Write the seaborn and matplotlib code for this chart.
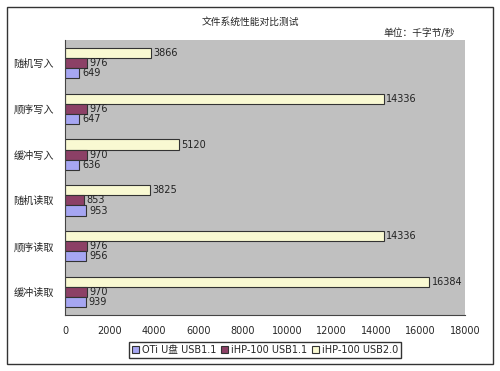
import seaborn as sns
import pandas as pd
import matplotlib.pyplot as plt
from matplotlib.patches import Rectangle

tests = ['随机写入', '顺序写入', '缓冲写入', '随机读取', '顺序读取', '缓冲读取']
devices = ['OTi U盘 USB1.1', 'iHP-100 USB1.1', 'iHP-100 USB2.0']
oti_usb11 = [649, 647, 636, 953, 956, 939]
ihp_usb11 = [976, 976, 970, 853, 976, 970]
ihp_usb20 = [3866, 14336, 5120, 3825, 14336, 16384]
colors = ['#9999FF', '#993366', '#FFFFCC']
x_ticks = [0, 2000, 4000, 6000, 8000, 10000, 12000, 14000, 16000, 18000]


def show():
    sns.set_style('white')
    plt.rcParams['font.family'] = ['DejaVu Sans', 'Noto Sans CJK SC']

    rows = []
    for dev, vals in zip(devices, [oti_usb11, ihp_usb11, ihp_usb20]):
        for t, v in zip(tests, vals):
            rows.append({'test': t, 'device': dev, 'value': v})
    df = pd.DataFrame(rows)

    fig = plt.figure(figsize=(5, 3.71), dpi=100)
    ax = fig.add_axes([0.13, 0.151, 0.8, 0.741])
    ax.set_facecolor('#C0C0C0')

    order = devices[::-1]
    sns.barplot(data=df, x='value', y='test', hue='device', hue_order=order,
                order=tests, palette=dict(zip(devices, colors)), orient='h',
                width=0.66, edgecolor='#333333', linewidth=0.8, ax=ax)

    for c in ax.containers:
        ax.bar_label(c, padding=2, fontsize=7, color='#222222')

    ax.set_xlim(0, 18000)
    ax.set_xticks(x_ticks)
    ax.set_xlabel('')
    ax.set_ylabel('')
    ax.tick_params(axis='x', labelsize=7, length=3, direction='in', pad=8)
    ax.tick_params(axis='y', which='major', labelsize=7.3, length=0, pad=8)
    ax.set_yticks([i + 0.5 for i in range(-1, len(tests))], minor=True)
    ax.tick_params(axis='y', which='minor', direction='in', length=4)
    for s in ['top', 'right']:
        ax.spines[s].set_visible(False)
    for s in ['left', 'bottom']:
        ax.spines[s].set_color('#444444')
        ax.spines[s].set_linewidth(0.8)

    handles, labels = ax.get_legend_handles_labels()
    ax.get_legend().remove()
    fig.legend(handles[::-1], labels[::-1], loc='center', bbox_to_anchor=(0.53, 0.057),
               ncol=3, fontsize=7, frameon=True, fancybox=False, edgecolor='black',
               handlelength=0.7, handleheight=0.7, handletextpad=0.3,
               columnspacing=0.5, borderpad=0.3)

    fig.text(0.5, 0.94, '文件系统性能对比测试', ha='center', va='center', fontsize=7)
    fig.text(0.91, 0.912, '单位：千字节/秒', ha='right', va='center', fontsize=7)
    fig.patches.append(Rectangle((0.014, 0.019), 0.972, 0.963, transform=fig.transFigure,
                                 fill=False, edgecolor='#333333', linewidth=1))

    fig.savefig('out.png', dpi=100)


if __name__ == '__main__':
    show()
